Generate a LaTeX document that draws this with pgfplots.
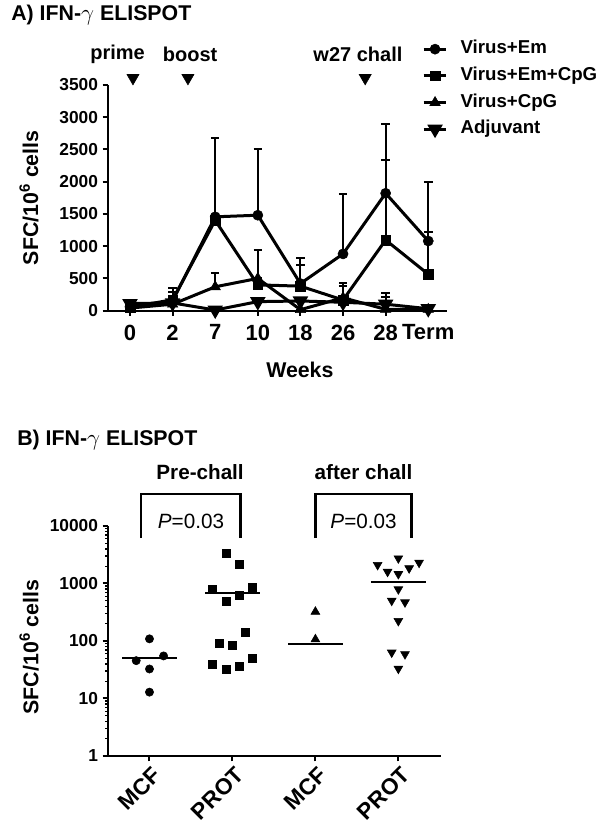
\documentclass[border=0pt]{standalone}
\usepackage{pgfplots}
\usepackage{pgfplotstable}
\pgfplotsset{compat=1.18}
\usepackage{fontspec}
\setmainfont{Liberation Sans}
\newcommand{\fs}[1]{\fontsize{#1}{#1}\selectfont}

\pgfplotstableread{
x y e
0 60 0
1 150 200
2 1455 1215
3 1480 1020
4 420 395
5 880 935
6 1820 1080
7 1080 920
}\tEm
\pgfplotstableread{
x y e
0 50 0
1 170 125
2 1400 0
3 400 540
4 380 330
5 165 268
6 1095 1245
7 565 655
}\tEmCpG
\pgfplotstableread{
x y e
0 40 0
1 100 0
2 370 220
3 500 0
4 15 0
5 200 182
6 20 197
7 20 0
}\tCpG
\pgfplotstableread{
x y e
0 110 0
1 120 0
2 10 0
3 140 0
4 150 0
5 130 0
6 100 179
7 30 0
}\tAdj

\pgfplotsset{
  elistyle/.style={
    scale only axis, clip=false,
    axis lines=left, axis line style={-, line width=1.5pt, black},
    tick style={line width=1.5pt, black}, tick align=outside,
    major tick length=4pt, minor tick length=2pt,
    /pgf/number format/assume math mode=true,
    /pgf/number format/1000 sep={},
    yticklabel style={font=\bfseries\fs{13}},
    ylabel={SFC/10\textsuperscript{6} cells},
    ylabel style={font=\bfseries\fs{16}, anchor=center},
  },
  serie/.style={black, line width=2.25pt, mark options={solid, line width=0.4pt, fill=black},
    error bars/y dir=plus, error bars/y explicit,
    error bars/error bar style={line width=1.5pt, black},
    error bars/error mark options={rotate=90, line width=1.5pt, mark size=3.2pt, black}},
}

\begin{document}
\begin{tikzpicture}
\useasboundingbox (0,0) rectangle (450pt,621pt);
\node[anchor=west, font=\bfseries\fs{16}, inner sep=0pt] at (8.25pt,609.75pt) {A) IFN-$\gamma$ ELISPOT};
\node[anchor=west, font=\bfseries\fs{16}, inner sep=0pt] at (12.75pt,291pt) {B) IFN-$\gamma$ ELISPOT};

% ---------- Panel A ----------
\begin{axis}[elistyle,
  at={(81pt,388pt)}, anchor=south west,
  width=254.25pt, height=169.3pt,
  xmin=-0.516, xmax=7.44, ymin=0, ymax=3500,
  xtick={0,1,2,3,4,5,6,7}, xticklabels={0,2,7,10,18,26,28,Term},
  xticklabel style={font=\bfseries\fs{16.5}, yshift=-3pt},
  ytick={0,500,1000,1500,2000,2500,3000,3500},
  ylabel style={at={(axis description cs:-0.233,0.5)}},
  xlabel={Weeks},
  xlabel style={font=\bfseries\fs{16}, at={(axis description cs:0.566,-0.263)}, anchor=center},
  legend style={at={(axis description cs:0.926,1.198)}, anchor=north west, draw=none, fill=none,
    font=\bfseries\fs{14}, row sep=7pt, column sep=0pt, inner sep=0pt,
    nodes={inner sep=0pt, text height=10pt, text depth=3pt}},
  legend cell align=left,
]
\addplot[serie, mark=*, mark size=3.8pt] table[x=x, y=y, y error=e] {\tEm};
\addlegendentry{\hspace{9.5pt}Virus+Em}
\addplot[serie, mark=square*, mark size=3.6pt] table[x=x, y=y, y error=e] {\tEmCpG};
\addlegendentry{\hspace{9.5pt}Virus+Em+CpG}
\addplot[serie, mark=triangle*, mark size=4.5pt] table[x=x, y=y, y error=e] {\tCpG};
\addlegendentry{\hspace{9.5pt}Virus+CpG}
\addplot[serie, mark=triangle*, mark size=4.5pt, mark options={rotate=180}] table[x=x, y=y, y error=e] {\tAdj};
\addlegendentry{\hspace{9.5pt}Adjuvant}
% immunisation / challenge time points
\addplot[forget plot, only marks, black, mark=triangle*, mark size=5.2pt, mark options={rotate=180}]
  coordinates {(0.07,3608) (1.36,3608) (5.52,3608)};
\node[font=\bfseries\fs{15}] at (axis cs:-0.29,3980) {prime};
\node[font=\bfseries\fs{15}] at (axis cs:1.41,3980) {boost};
\node[font=\bfseries\fs{15}] at (axis cs:5.35,3980) {w27 chall};
\end{axis}

% ---------- Panel B ----------
\begin{axis}[elistyle,
  at={(81pt,54pt)}, anchor=south west,
  width=249.5pt, height=172.5pt,
  ymode=log, xmin=-0.5, xmax=3.51, ymin=1, ymax=10000,
  xtick={0,1,2,3}, xticklabels={MCF,PROT,MCF,PROT},
  xticklabel style={font=\bfseries\fs{17}, rotate=45, anchor=north east, inner sep=1pt, yshift=-2pt},
  ytick={1,10,100,1000,10000}, yticklabels={1,10,100,1000,10000},
  minor ytick={2,3,4,5,6,7,8,9,20,30,40,50,60,70,80,90,200,300,400,500,600,700,800,900,2000,3000,4000,5000,6000,7000,8000,9000},
  minor tick style={line width=1pt},
  ylabel style={at={(axis description cs:-0.237,0.474)}},
]
% Pre-chall MCF
\addplot[only marks, black, mark=*, mark size=3.1pt]
  coordinates {(0,109) (-0.16,45.5) (0.17,55) (0,32.6) (0,12.9)};
\addplot[black, line width=1.5pt] coordinates {(-0.33,51) (0.33,51)};
% Pre-chall PROT
\addplot[only marks, black, mark=square*, mark size=3pt]
  coordinates {(0.92,3350) (1.08,2200) (0.76,793) (1.24,847) (1.08,631) (0.92,496) (1.16,142) (0.84,91) (1.0,83) (0.76,39) (0.92,32) (1.08,36) (1.24,51)};
\addplot[black, line width=1.5pt] coordinates {(0.67,676) (1.33,676)};
% after chall MCF
\addplot[only marks, black, mark=triangle*, mark size=3.8pt]
  coordinates {(2,323) (2,107)};
\addplot[black, line width=1.5pt] coordinates {(1.67,89) (2.33,89)};
% after chall PROT
\addplot[only marks, black, mark=triangle*, mark size=3.8pt, mark options={rotate=180}]
  coordinates {(2.75,2100) (2.87,1600) (3,2740) (3,1460) (3.13,1840) (3.25,2300) (3,793) (2.92,502) (3.08,471) (3,223) (2.92,63) (3.08,59) (3,33)};
\addplot[black, line width=1.5pt] coordinates {(2.67,1050) (3.33,1050)};
% significance brackets
\addplot[black, line width=1.9pt] coordinates {(-0.10,6180) (-0.10,36000) (1.10,36000) (1.10,6180)};
\addplot[black, line width=1.9pt] coordinates {(2.00,6180) (2.00,36000) (3.16,36000) (3.16,6180)};
\node[font=\fs{15.5}] at (axis cs:0.5,12200) {\textit{P}=0.03};
\node[font=\fs{15.5}] at (axis cs:2.58,12200) {\textit{P}=0.03};
\node[font=\bfseries\fs{15.5}] at (axis cs:0.61,86900) {Pre-chall};
\node[font=\bfseries\fs{15.5}] at (axis cs:2.58,86900) {after chall};
\end{axis}
\end{tikzpicture}
\end{document}
